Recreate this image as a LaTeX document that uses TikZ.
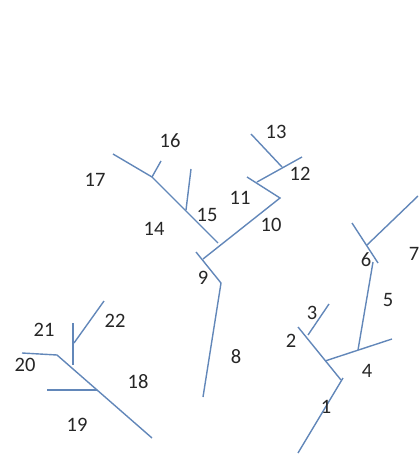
\documentclass[tikz,border=0pt]{standalone}
\usepackage{fontspec}
\setmainfont{Carlito}
\definecolor{stem}{RGB}{98,135,185}
\begin{document}
\begin{tikzpicture}[x=1pt,y=-1pt,
  br/.style={draw=stem,line width=1.4pt},
  lbl/.style={font=\fontsize{20.5}{22}\selectfont,text=black!85,inner sep=0pt}]
\useasboundingbox (0,0) rectangle (418,457);
% right tree
\coordinate (a1) at (298,453); \coordinate (a2) at (343,378);
\coordinate (b1) at (298,327); \coordinate (b2) at (341,380);
\coordinate (c1) at (308,335); \coordinate (c2) at (329,304);
\coordinate (d1) at (325,361); \coordinate (d2) at (392,339);
\coordinate (e1) at (358,350); \coordinate (e2) at (373,262);
\coordinate (f1) at (352,223); \coordinate (f2) at (378,263);
\coordinate (g1) at (367,245); \coordinate (g2) at (418,196);
\draw[br] (a1) -- (a2);
\draw[br] (b1) -- (b2);
\draw[br] (c1) -- (c2);
\draw[br] (d1) -- (d2);
\draw[br] (e1) -- (e2);
\draw[br] (f1) -- (f2);
\draw[br] (g1) -- (g2);
% middle tree
\coordinate (m1) at (251,134); \coordinate (m2) at (282,167);
\coordinate (n1) at (257,182); \coordinate (n2) at (302,157);
\coordinate (o1) at (247,177); \coordinate (o2) at (280,198);
\coordinate (p1) at (203,259);
\coordinate (q1) at (196,252); \coordinate (q2) at (221,283);
\coordinate (r1) at (203,397);
\coordinate (s1) at (113,154); \coordinate (s2) at (152,177); \coordinate (s3) at (218,243);
\coordinate (t1) at (161,161);
\coordinate (u1) at (186,210); \coordinate (u2) at (191,169);
\draw[br] (m1) -- (m2);
\draw[br] (n1) -- (n2);
\draw[br] (o1) -- (o2) -- (p1);
\draw[br] (q1) -- (q2) -- (r1);
\draw[br] (s1) -- (s2) -- (s3);
\draw[br] (s2) -- (t1);
\draw[br] (u1) -- (u2);
% left tree
\coordinate (v1) at (74,343); \coordinate (v2) at (104,301);
\coordinate (w1) at (73,323); \coordinate (w2) at (73,365);
\coordinate (x1) at (22,353); \coordinate (x2) at (57,355);
\coordinate (y2) at (152,438);
\coordinate (z1) at (47,390); \coordinate (z2) at (97,390);
\draw[br] (v1) -- (v2);
\draw[br] (w1) -- (w2);
\draw[br] (x1) -- (x2) -- (y2);
\draw[br] (z1) -- (z2);
% labels
\node[lbl] (l1) at (326,407) {1};
\node[lbl] (l2) at (291,341) {2};
\node[lbl] (l3) at (312,313) {3};
\node[lbl] (l4) at (367,371) {4};
\node[lbl] (l5) at (388,300) {5};
\node[lbl] (l6) at (366,260) {6};
\node[lbl] (l7) at (414,254) {7};
\node[lbl] (l8) at (236,357) {8};
\node[lbl] (l9) at (203,278) {9};
\node[lbl] (l10) at (271,225) {10};
\node[lbl] (l11) at (240,198) {11};
\node[lbl] (l12) at (300,174) {12};
\node[lbl] (l13) at (276,132) {13};
\node[lbl] (l14) at (154,229) {14};
\node[lbl] (l15) at (207,215) {15};
\node[lbl] (l16) at (170,141) {16};
\node[lbl] (l17) at (95,180) {17};
\node[lbl] (l18) at (138,382) {18};
\node[lbl] (l19) at (77,425) {19};
\node[lbl] (l20) at (25,365) {20};
\node[lbl] (l21) at (44,330) {21};
\node[lbl] (l22) at (115,321) {22};
\end{tikzpicture}
\end{document}
